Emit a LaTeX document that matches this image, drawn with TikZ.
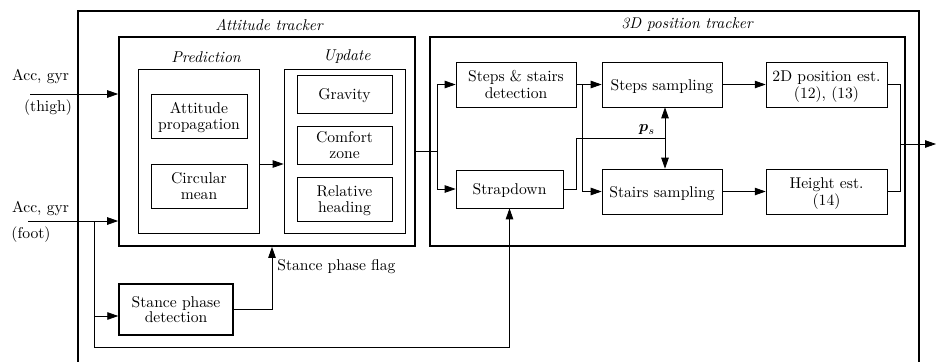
\documentclass[tikz,border=0pt]{standalone}
\usepackage{amsmath,bm}
\usetikzlibrary{arrows.meta}
\begin{document}
\begin{tikzpicture}[x=0.64pt,y=-0.64pt,
  frame/.style={draw,line width=1.7pt},
  tracker/.style={draw,line width=1.1pt,inner sep=0pt},
  group/.style={draw,line width=0.55pt,inner sep=0pt},
  blk/.style={draw,line width=0.45pt,align=center,inner sep=1pt,font=\normalsize,text depth=0pt},
  ttl/.style={font=\itshape,inner sep=0pt},
  conn/.style={line width=0.5pt},
  arr/.style={conn,-{Triangle[length=7pt,width=4.8pt]}},
  darr/.style={conn,{Triangle[length=7pt,width=4.8pt]}-{Triangle[length=7pt,width=4.8pt]}},
  lbl/.style={inner sep=0pt}
]
\useasboundingbox (0,0) rectangle (937,361);
\clip (0,0) rectangle (937,361);

% outer frame
\draw[frame] (78,380) -- (78,11) -- (919,11) -- (919,380);

% trackers
\node[tracker,minimum width=189.4pt,minimum height=133.8pt] (att) at (267,141.5) {};
\node[tracker,minimum width=304pt,minimum height=133.8pt] (pos) at (667.5,141.5) {};
\node[ttl] (attl) at (269,25) {Attitude tracker};
\node[ttl] (posl) at (687,25) {3D position tracker};

% prediction / update groups
\node[group,minimum width=77.4pt,minimum height=105pt] (pred) at (198.5,151) {};
\node[group,minimum width=77.4pt,minimum height=105pt] (upd) at (344.5,151) {};
\node[ttl] (predl) at (206,57) {Prediction};
\node[ttl] (updl) at (347,57) {Update};

% prediction blocks
\node[blk,minimum width=61.4pt,minimum height=28.2pt] (prop) at (199,116) {Attitude\\[-2pt]propagation};
\node[blk,minimum width=61.4pt,minimum height=28.2pt] (circ) at (199,186) {Circular\\[-2pt]mean};

% update blocks
\node[blk,minimum width=60.8pt,minimum height=24.3pt] (grav) at (344.5,94) {Gravity};
\node[blk,minimum width=60.8pt,minimum height=24.3pt] (comf) at (344.5,145) {Comfort\\[-2pt]zone};
\node[blk,minimum width=60.8pt,minimum height=28.2pt] (rel) at (344.5,199) {Relative\\[-2pt]heading};

% stance
\node[blk,line width=0.9pt,minimum width=73pt,minimum height=32.6pt] (stance) at (176,309.5) {Stance phase\\[-2pt]detection};

% position tracker blocks
\node[blk,minimum width=76.8pt,minimum height=28.8pt] (det) at (516,84.5) {Steps \& stairs\\[-1pt]detection};
\node[blk,minimum width=68.5pt,minimum height=24.3pt] (sd) at (509.5,189) {Strapdown};
\node[blk,minimum width=76.8pt,minimum height=28.8pt] (steps) at (662,84.5) {Steps sampling};
\node[blk,minimum width=76.8pt,minimum height=28.8pt] (stairs) at (662,191.5) {Stairs sampling};
\node[blk,minimum width=77.4pt,minimum height=28.8pt] (pos2d) at (826.5,84.5) {2D position est.\\[-1pt](12), (13)};
\node[blk,minimum width=77.4pt,minimum height=28.8pt] (hgt) at (826.5,191.5) {Height est.\\[-1pt](14)};

% inputs
\node[lbl] (accT) at (40.5,77) {Acc, gyr};
\node[lbl] (thigh) at (48,108) {(thigh)};
\node[lbl] (accF) at (40.5,209) {Acc, gyr};
\node[lbl] (foot) at (31,235) {(foot)};
\coordinate (tin) at (30,94);
\coordinate (fin) at (28,221);
\coordinate (fj) at (94,221);
\coordinate (fb) at (94,347);
\coordinate (fs) at (94,316);

\draw[arr] (tin) -- (tin -| att.west);
\draw[arr] (fin) -- (fin -| att.west);
\draw[arr] (fs) -- (fs -| stance.west);
\draw[conn] (fj) -- (fb);
\draw[arr] (fb) -| (sd.south);

% stance flag
\coordinate (sfx) at (272,0);
\draw[arr] (stance.east) -| (sfx |- att.south);
\node[lbl,anchor=west] (sfl) at (277,267) {Stance phase flag};

% prediction -> update
\draw[arr] (pred.east |- 0,164) -- (upd.west |- 0,164);

% attitude -> position tracker
\coordinate (aj) at (437,151);
\draw[conn] (att.east |- aj) -- (aj);
\draw[arr] (aj) |- (det.west);
\draw[arr] (aj) |- (sd.west);

% detection -> sampling
\coordinate (dj) at (582,84.5);
\draw[arr] (det.east) -- (steps.west);
\draw[arr] (dj) |- (stairs.west);

% strapdown -> p_s
\coordinate (pj) at (665,138);
\draw[conn] (sd.east) -| (576,138) -- (pj);
\draw[darr] (steps.south -| pj) -- (stairs.north -| pj);
\node[lbl] (psl) at (647,130) {$\bm{p}_s$};

% sampling -> estimates
\draw[arr] (steps.east) -- (pos2d.west);
\draw[arr] (stairs.east) -- (hgt.west);

% output
\coordinate (oj) at (900,144);
\coordinate (out) at (936,144);
\draw[conn] (pos2d.east) -| (oj) |- (hgt.east);
\draw[arr] (oj) -- (out);
\end{tikzpicture}
\end{document}
